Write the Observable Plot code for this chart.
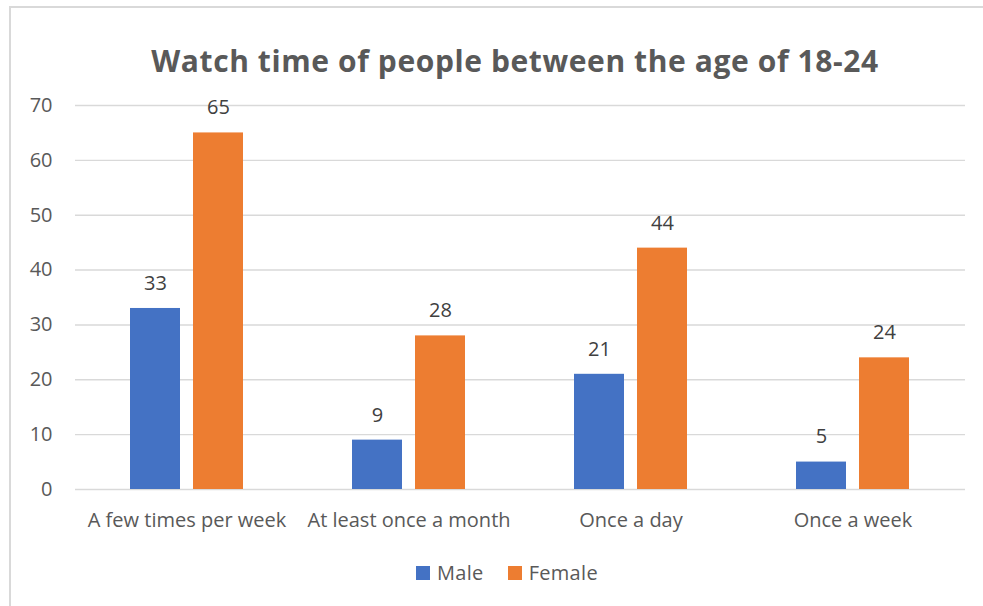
<!DOCTYPE html>
<html>
<head>
<meta charset="utf-8">
<script src="https://cdn.jsdelivr.net/npm/d3@7"></script>
<script src="https://cdn.jsdelivr.net/npm/@observablehq/plot@0.6"></script>
<style>
  html, body { margin: 0; padding: 0; background: #fff; }
  body { width: 983px; height: 606px; position: relative; overflow: hidden; font-family: "Open Sans", sans-serif; }
  #frame { position: absolute; left: 9px; top: 6px; right: -10px; bottom: -10px; border-top: 2px solid #d9d9d9; border-left: 2px solid #d9d9d9; pointer-events: none; }
  #title { height: 90px; box-sizing: border-box; padding-top: 41px; padding-left: 47px; text-align: center; font-weight: 700; font-size: 30px; letter-spacing: 0.6px; line-height: 40px; color: #595959; white-space: nowrap; }
  #chart { height: 449px; }
  #legend { display: flex; justify-content: center; align-items: center; padding-left: 31px; padding-top: 20px; font-size: 20px; letter-spacing: 0.3px; color: #595959; }
  .item { display: flex; align-items: center; margin: 0 12px; }
  .sw { width: 14px; height: 14px; margin-right: 7px; }
</style>
</head>
<body>
<div id="frame"></div>
<div id="title">Watch time of people between the age of 18-24</div>
<div id="chart"></div>
<div id="legend"></div>
<script>
const categories = ["A few times per week", "At least once a month", "Once a day", "Once a week"];
const seriesNames = ["Male", "Female"];
const maleValues = [33, 9, 21, 5];
const femaleValues = [65, 28, 44, 24];
const yTicks = [0, 10, 20, 30, 40, 50, 60, 70];
const seriesColors = ["#4472C4", "#ED7D31"];

const male = categories.map((c, i) => ({category: c, series: "Male", value: maleValues[i]}));
const female = categories.map((c, i) => ({category: c, series: "Female", value: femaleValues[i]}));

const barW = 50, gap = 13;
const inset = barW + gap;
const shift = (barW + gap) / 2;

const chart = Plot.plot({
  width: 983,
  height: 449,
  marginTop: 15,
  marginBottom: 50,
  marginLeft: 75,
  marginRight: 18,
  style: {fontFamily: "Open Sans, sans-serif", fontSize: "20px", color: "#595959", background: "white", overflow: "visible"},
  x: {domain: categories, paddingInner: 0.49, paddingOuter: 0.245, label: null},
  y: {domain: [0, 70], label: null},
  color: {domain: seriesNames, range: seriesColors},
  marks: [
    Plot.ruleY(yTicks, {stroke: "#d9d9d9", strokeWidth: 1.4}),
    Plot.axisY(yTicks, {tickSize: 0, tickPadding: 23, fontSize: 20, fill: "#595959", label: null}),
    Plot.axisX({tickSize: 0, tickPadding: 23, fontSize: 20, fill: "#595959", label: null, style: {letterSpacing: "0.5px"}}),
    Plot.barY(male, {x: "category", y: "value", fill: "series", insetRight: inset}),
    Plot.barY(female, {x: "category", y: "value", fill: "series", insetLeft: inset}),
    Plot.text(male, {x: "category", y: "value", text: "value", dx: -shift, dy: -25, fontSize: 20, fill: "#404040", lineAnchor: "middle"}),
    Plot.text(female, {x: "category", y: "value", text: "value", dx: shift, dy: -25, fontSize: 20, fill: "#404040", lineAnchor: "middle"})
  ]
});
document.getElementById("chart").appendChild(chart);

const legend = document.getElementById("legend");
seriesNames.forEach((s, i) => {
  const item = document.createElement("div");
  item.className = "item";
  const sw = document.createElement("div");
  sw.className = "sw";
  sw.style.background = seriesColors[i];
  const label = document.createElement("span");
  label.textContent = s;
  item.appendChild(sw);
  item.appendChild(label);
  legend.appendChild(item);
});
</script>
</body>
</html>
